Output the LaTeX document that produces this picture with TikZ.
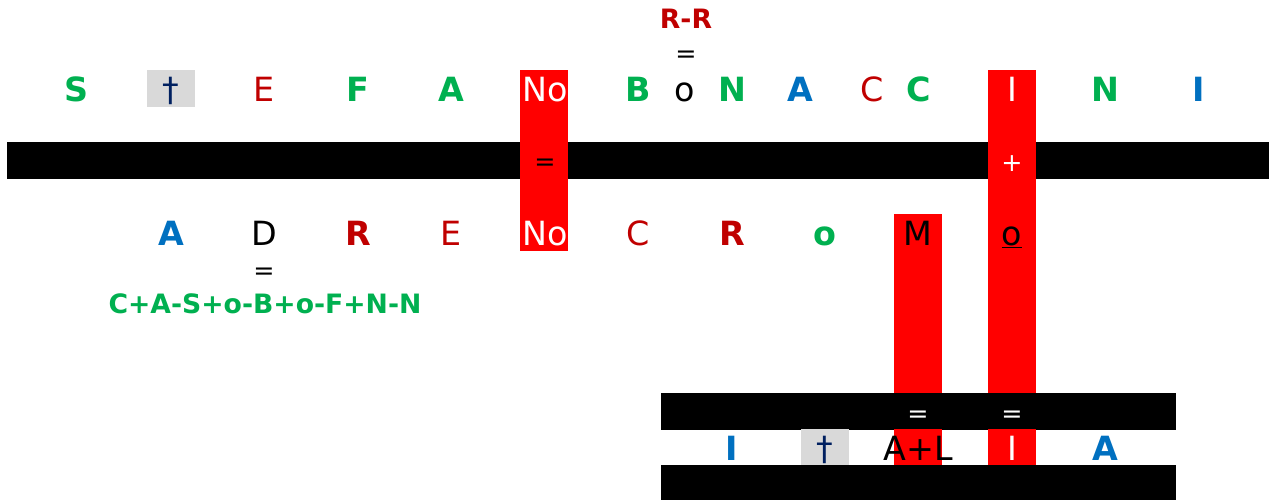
\documentclass[tikz,border=0pt]{standalone}
\usepackage{fontspec}
\setmainfont{DejaVu Sans}
\definecolor{grn}{RGB}{0,176,80}
\definecolor{blu}{RGB}{0,112,192}
\definecolor{drd}{RGB}{192,0,0}
\definecolor{brd}{RGB}{255,0,0}
\definecolor{gry}{RGB}{217,217,217}
\definecolor{nvy}{RGB}{0,32,96}
\begin{document}
\begin{tikzpicture}[x=0.75pt,y=-0.75pt,
 lt/.style={inner sep=0pt,anchor=base,font=\fontsize{25}{30}\selectfont},
 bd/.style={inner sep=0pt,anchor=base,font=\fontsize{25}{30}\selectfont\bfseries},
 eq/.style={inner sep=0pt,font=\fontsize{19}{22}\selectfont},
 hd/.style={inner sep=0pt,anchor=base,font=\fontsize{20}{24}\selectfont\bfseries},
 barfill/.style={fill=black},
 colfill/.style={fill=brd},
 gfill/.style={fill=gry}]
\useasboundingbox (0,0) rectangle (1274,500);
\fill[white] (0,0) rectangle (1274,500);
% bars and columns
\fill[barfill] (7,142) rectangle (1269,179);
\fill[colfill] (520,70) rectangle (568,251);
\fill[colfill] (988,70) rectangle (1036,393);
\fill[colfill] (894,214) rectangle (942,393);
\fill[gfill] (147,70) rectangle (195,107);
\fill[barfill] (661,393) rectangle (1176,430);
\fill[gfill] (801,429) rectangle (849,465);
\fill[colfill] (894,429) rectangle (942,465);
\fill[colfill] (988,429) rectangle (1036,465);
\fill[barfill] (661,465) rectangle (1176,500);
% heading
\node[hd,text=drd] (rr) at (686,28) {R-R};
\node[eq] (eqrr) at (686,57) {=};
% top row
\node[bd,text=grn] (t1) at (77,101) {S};
\node[lt,text=nvy] (t2) at (171,101) {†};
\node[lt,text=drd] (t3) at (264,101) {E};
\node[bd,text=grn] (t4) at (358,101) {F};
\node[bd,text=grn] (t5) at (451,101) {A};
\node[lt,text=white] (t6) at (545,101) {No};
\node[bd,text=grn] (t7) at (638,101) {B};
\node[lt,text=black] (t8) at (685,101) {o};
\node[bd,text=grn] (t9) at (732,101) {N};
\node[bd,text=blu] (t10) at (800,101) {A};
\node[lt,text=drd] (t11) at (872,101) {C};
\node[bd,text=grn] (t12) at (919,101) {C};
\node[lt,text=white] (t13) at (1012,101) {I};
\node[bd,text=grn] (t14) at (1105,101) {N};
\node[bd,text=blu] (t15) at (1199,101) {I};
% bar signs
\node[eq,text=black] (b1) at (545,165) {=};
\node[eq,text=white] (b2) at (1012,164) {+};
% second row
\node[bd,text=blu] (s1) at (171,245) {A};
\node[lt,text=black] (s2) at (264,245) {D};
\node[bd,text=drd] (s3) at (358,245) {R};
\node[lt,text=drd] (s4) at (451,245) {E};
\node[lt,text=white] (s5) at (545,245) {No};
\node[lt,text=drd] (s6) at (638,245) {C};
\node[bd,text=drd] (s7) at (732,245) {R};
\node[bd,text=grn] (s8) at (825,245) {o};
\node[lt,text=black] (s9) at (918,245) {M};
\node[lt,text=black] (s10) at (1012,245) {\underline{o}};
\node[eq] (eqd) at (264,274) {=};
\node[hd,text=grn] (form) at (265,313) {C+A-S+o-B+o-F+N-N};
% bottom bar signs
\node[eq,text=white] (b3) at (918,417) {=};
\node[eq,text=white] (b4) at (1012,417) {=};
% bottom row
\node[bd,text=blu] (u1) at (732,460) {I};
\node[lt,text=nvy] (u2) at (825,460) {†};
\node[lt,text=black] (u3) at (918,460) {A+L};
\node[lt,text=white] (u4) at (1012,460) {I};
\node[bd,text=blu] (u5) at (1105,460) {A};
\end{tikzpicture}
\end{document}
